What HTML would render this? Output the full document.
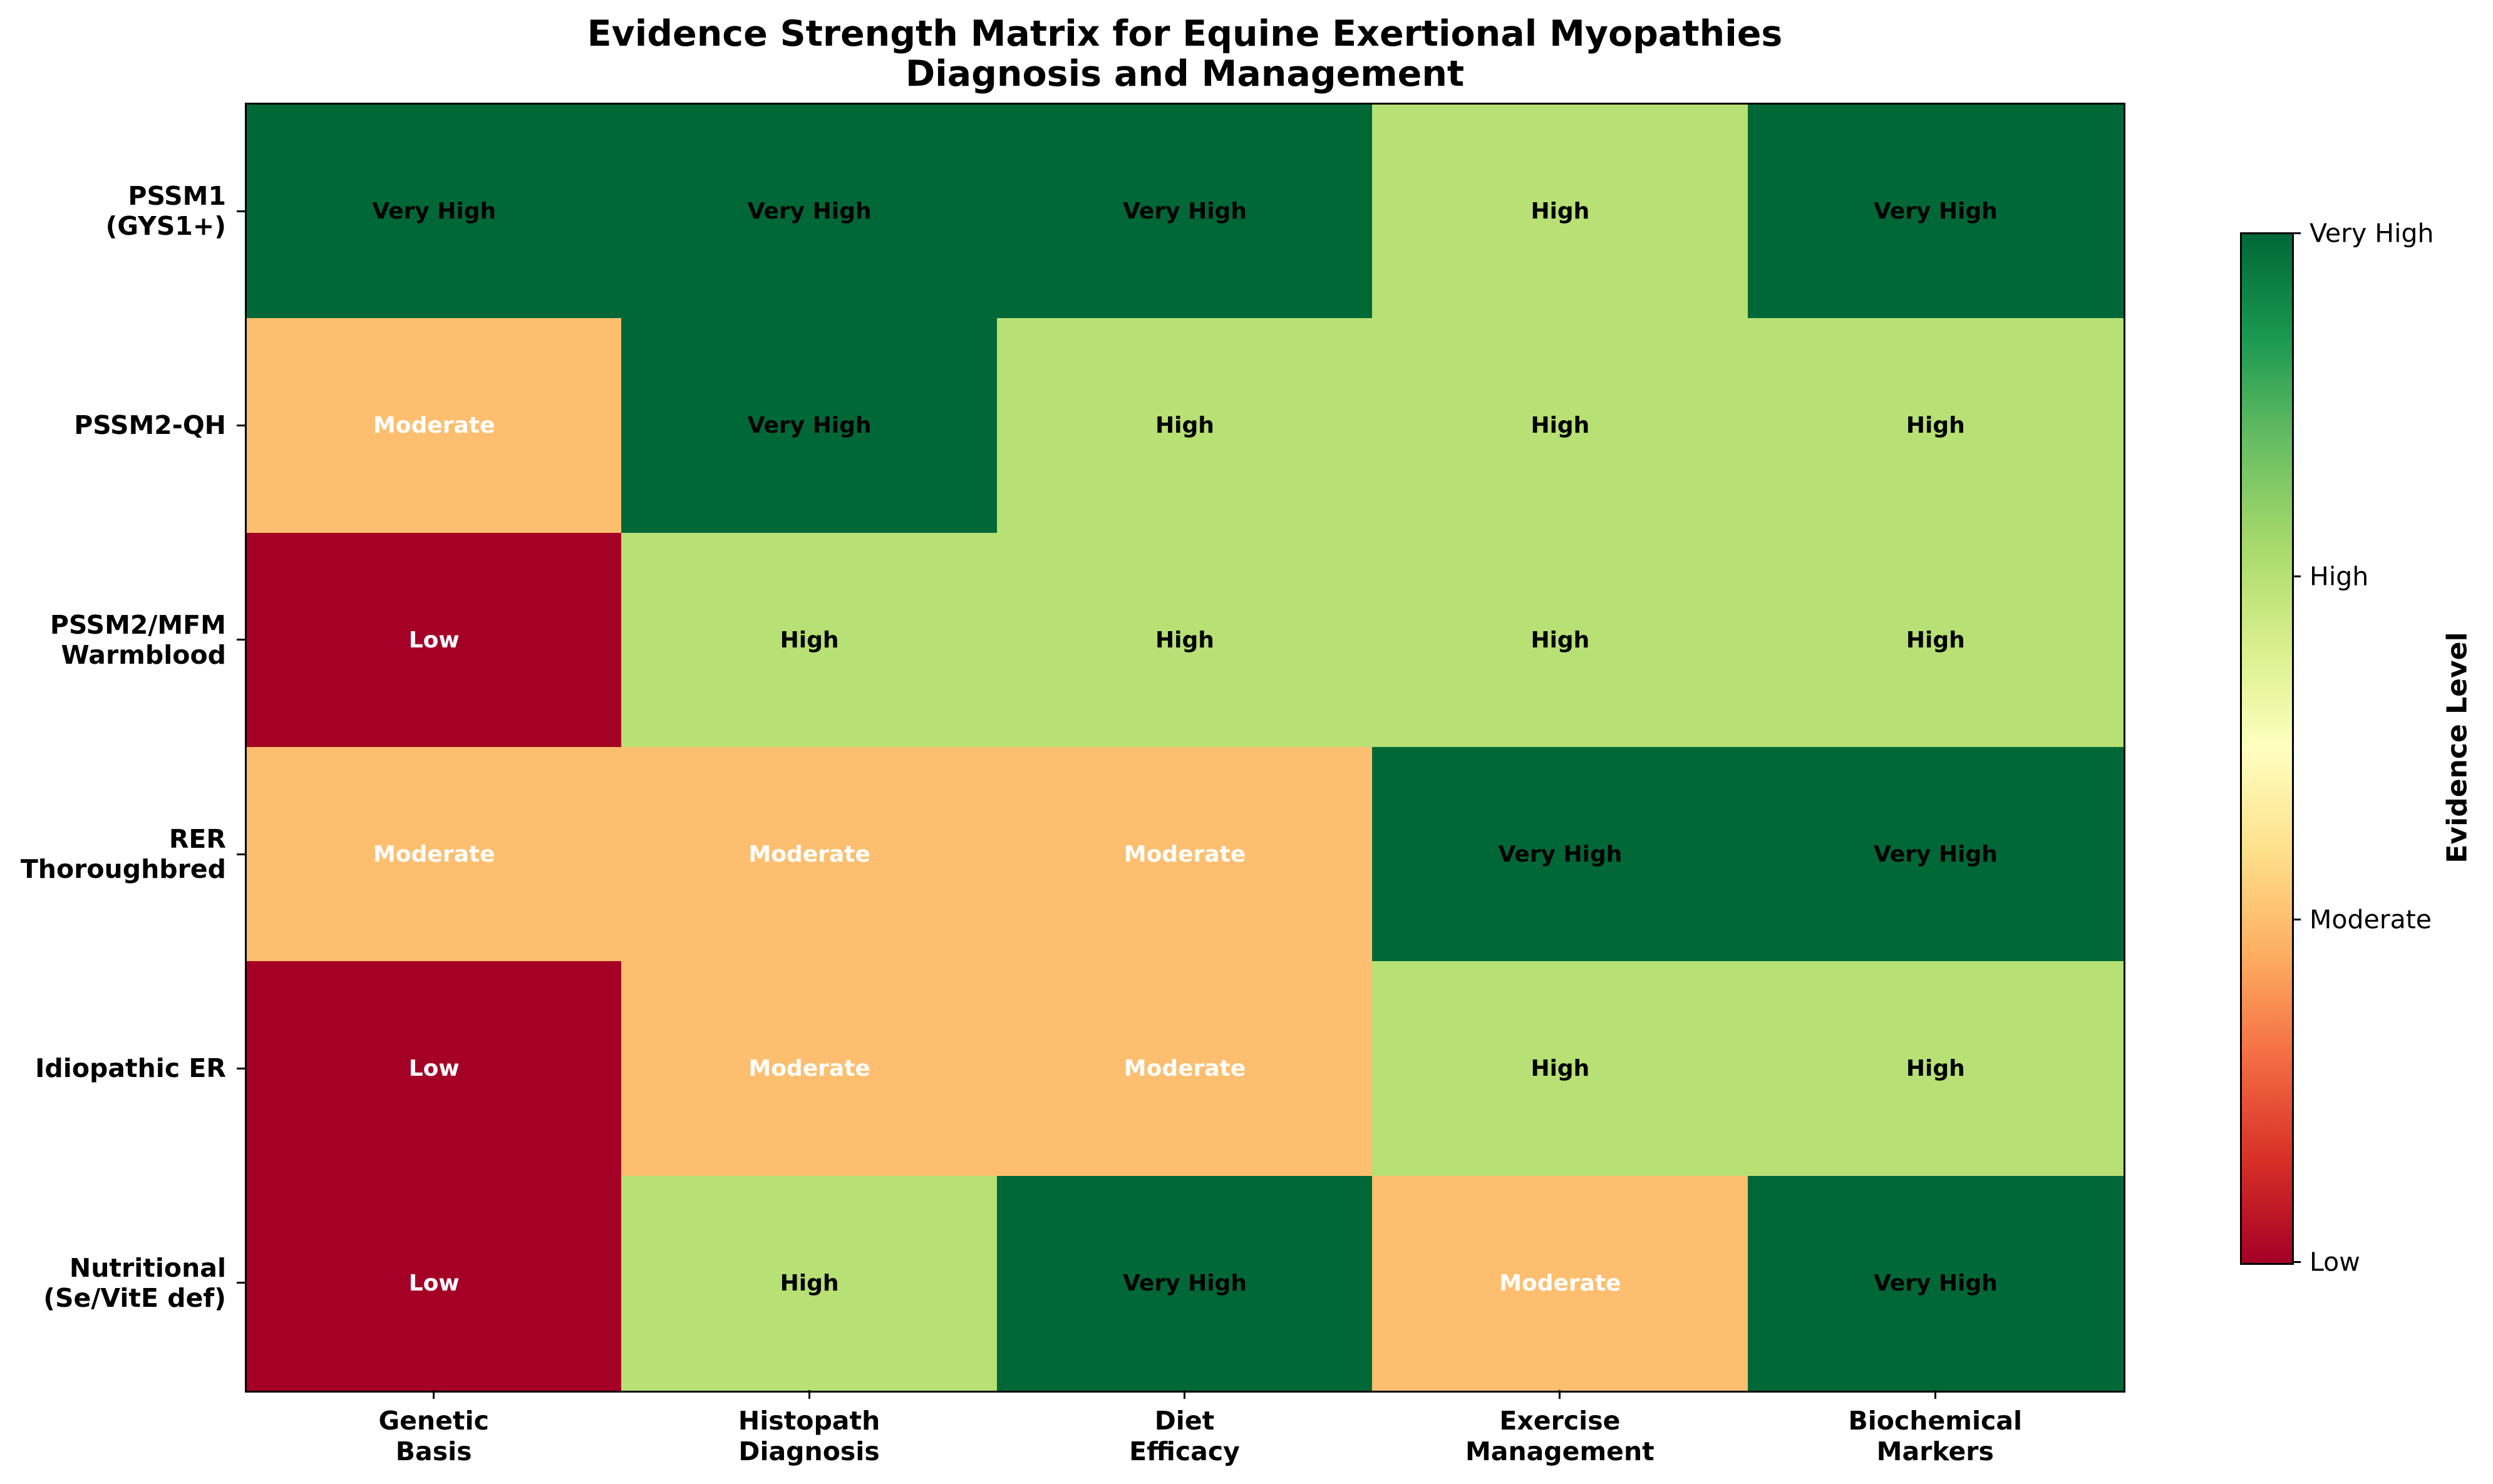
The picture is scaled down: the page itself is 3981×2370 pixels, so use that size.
<!DOCTYPE html>
<html><head><meta charset="utf-8"><style>
body{margin:0;width:3981px;height:2370px;background:#fff;position:relative;overflow:hidden;font-family:"DejaVu Sans","Liberation Sans",sans-serif;}
.a{position:absolute;}
.c{position:absolute;display:flex;align-items:center;justify-content:center;font-weight:bold;font-size:36px;}
.yl{position:absolute;right:3620px;text-align:right;font-weight:bold;font-size:41px;line-height:48px;transform:translateY(-50%);}
.xl{position:absolute;width:600px;text-align:center;font-weight:bold;font-size:41px;line-height:49px;top:2245px;}
.ct{position:absolute;left:3688px;font-size:41px;line-height:41px;transform:translateY(-50%);}
</style></head><body>
<div class="a" style="left:0;width:3784px;top:22px;text-align:center;font-weight:bold;font-size:57px;line-height:64px;">Evidence Strength Matrix for Equine Exertional Myopathies<br>Diagnosis and Management</div>
<div id="grid"></div>
<div class="a" style="left:391px;top:164px;width:2997px;height:2054px;border:3px solid #000;"></div>
<script>
var data=[[3,3,3,2,3],[1,3,2,2,2],[0,2,2,2,2],[1,1,1,3,3],[0,1,1,2,2],[0,2,3,1,3]];
var col=["#a50026","#fdbf6f","#b7e075","#006837"];
var txt=["Low","Moderate","High","Very High"];
var tc=["#fff","#fff","#000","#000"];
var h="";
var L=393,T=166,W=599.4,H=342.33;
for(var r=0;r<6;r++)for(var c=0;c<5;c++){var v=data[r][c];
h+='<div class="c" style="left:'+(L+c*W)+'px;top:'+(T+r*H)+'px;width:'+(W+1)+'px;height:'+(H+1)+'px;background:'+col[v]+';color:'+tc[v]+'">'+txt[v]+'</div>';}
var rows=["PSSM1<br>(GYS1+)","PSSM2-QH","PSSM2/MFM<br>Warmblood","RER<br>Thoroughbred","Idiopathic ER","Nutritional<br>(Se/VitE def)"];
for(var r=0;r<6;r++){var y=T+(r+0.5)*H;
h+='<div class="yl" style="top:'+y+'px">'+rows[r]+'</div>';
h+='<div class="a" style="left:378px;top:'+(y-1.5)+'px;width:14px;height:3px;background:#000"></div>';}
var cols=["Genetic<br>Basis","Histopath<br>Diagnosis","Diet<br>Efficacy","Exercise<br>Management","Biochemical<br>Markers"];
for(var c=0;c<5;c++){var x=L+(c+0.5)*W;
h+='<div class="xl" style="left:'+(x-300)+'px">'+cols[c]+'</div>';
h+='<div class="a" style="left:'+(x-1.5)+'px;top:2220px;width:3px;height:14px;background:#000"></div>';}
document.getElementById("grid").innerHTML=h;
</script>
<div class="a" style="left:3577px;top:371px;width:80px;height:1643px;border:3px solid #000;background:linear-gradient(to top,#a50026 0%,#d73027 10%,#f46d43 20%,#fdae61 30%,#fee08b 40%,#ffffbf 50%,#d9ef8b 60%,#a6d96a 70%,#66bd63 80%,#1a9850 90%,#006837 100%);"></div>
<div class="a" style="left:3660px;top:371px;width:14px;height:3px;background:#000"></div>
<div class="a" style="left:3660px;top:919px;width:14px;height:3px;background:#000"></div>
<div class="a" style="left:3660px;top:1467px;width:14px;height:3px;background:#000"></div>
<div class="a" style="left:3660px;top:2014px;width:14px;height:3px;background:#000"></div>
<div class="ct" style="top:373px">Very High</div>
<div class="ct" style="top:921px">High</div>
<div class="ct" style="top:1469px">Moderate</div>
<div class="ct" style="top:2016px">Low</div>
<div class="a" style="left:3924px;top:1194px;transform:translate(-50%,-50%) rotate(-90deg);white-space:nowrap;font-weight:bold;font-size:44px;">Evidence Level</div>
</body></html>
